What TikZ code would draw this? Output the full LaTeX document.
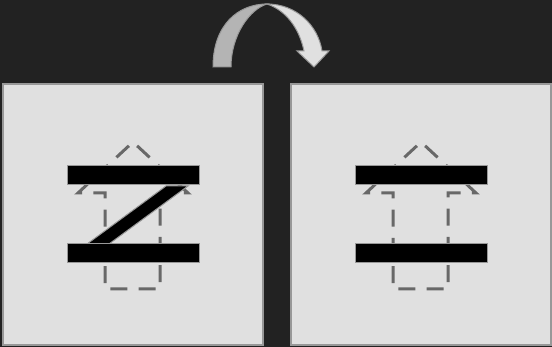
\documentclass[tikz,border=0pt]{standalone}
\usepackage{xcolor}
\usepackage{tikz}
\usetikzlibrary{positioning}

\definecolor{sfondo}{HTML}{222222}
\definecolor{chiaro}{HTML}{E0E0E0}
\definecolor{bordo}{HTML}{989898}
\definecolor{tratto}{HTML}{686868}
\definecolor{scuro}{HTML}{B4B4B4}

\begin{document}
\begin{tikzpicture}[x=1pt, y=-1pt,
    pannello/.style={fill=chiaro, draw=bordo, line width=1.5},
    barra/.style={fill=black, draw=bordo, line width=1},
    traccia/.style={draw=tratto, line width=3,
        dash pattern=on 17 off 11.25, dash phase=22.6}]

    % Sfondo
    \fill[sfondo] (0,0) rectangle (552,347);

    % Freccia curva
    \filldraw[fill=scuro, draw=bordo, line width=1]
        (213,67) .. controls (213,25) and (238,4) .. (267,4)
        .. controls (250,9) and (231,35) .. (231,67) -- cycle;
    \filldraw[fill=chiaro, draw=bordo, line width=1]
        (267,4) .. controls (296,4) and (318,25) .. (322,51)
        -- (329,51) -- (314,67) -- (297,51) -- (304,51)
        .. controls (299,27) and (285,10) .. (267,4) -- cycle;

    % Pannelli
    \foreach \dx in {0,288} {
    \begin{scope}[xshift=\dx]
        \draw[pannello] (3,84) rectangle (263,345);
        \draw[traccia] (133,142) -- (188,193) -- (160,193) -- (160,289)
            -- (105,289) -- (105,193) -- (78,193) -- cycle;
    \end{scope}
    }

    % Scala obliqua
    \filldraw[barra] (87,244) -- (109,244) -- (188,186) -- (166,186) -- cycle;

    % Barre
    \foreach \dx in {0,288} {
    \begin{scope}[xshift=\dx]
        \draw[barra] (67,166) rectangle (199,185);
        \draw[barra] (67,244) rectangle (199,263);
    \end{scope}
    }
\end{tikzpicture}
\end{document}
